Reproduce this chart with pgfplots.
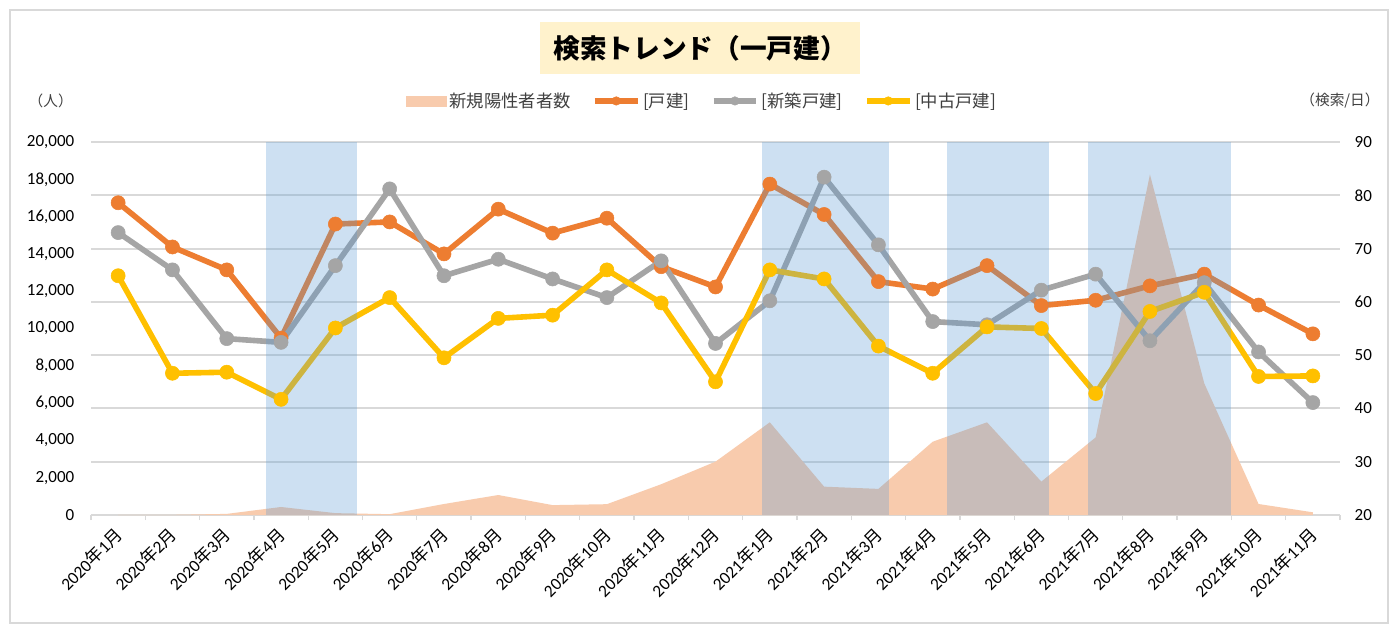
\documentclass[border=0pt]{standalone}
\usepackage{fontspec}
\setmainfont{Carlito}
\newfontfamily\cjk{Noto Sans CJK JP}
\usepackage{pgfplots}
\pgfplotsset{compat=1.18}
\definecolor{cOr}{HTML}{ED7D31}
\definecolor{cGr}{HTML}{A5A5A5}
\definecolor{cYe}{HTML}{FFC000}
\definecolor{cArea}{HTML}{F8CBAD}
\definecolor{cBand}{HTML}{5B9BD5}
\definecolor{cGrid}{HTML}{D9D9D9}
\definecolor{cTitle}{HTML}{FFF2CC}
\definecolor{cText}{HTML}{404040}
\newcommand{\ym}[2]{#1{\cjk 年}#2{\cjk 月}}
\pgfplotsset{
  base/.style={scale only axis, width=936.75pt, height=279.75pt,
    at={(68.25pt,88.5pt)}, anchor=south west, xmin=-0.5, xmax=22.5,
    axis line style={draw=none}, major tick length=0pt,
    scaled y ticks=false,
    ticklabel style={font=\fontsize{12.75}{14}\selectfont, text=black},
    /pgf/number format/assume math mode=true,
    /pgf/number format/1000 sep={,}},
  ln/.style={line width=4.2pt, line join=round, mark=*, mark size=5.3pt,
    mark options={solid, line width=0.4pt}},
}
\begin{document}
\begin{tikzpicture}
\useasboundingbox (0pt,0pt) rectangle (1048.5pt,474.75pt);
\fill[white] (0pt,0pt) rectangle (1048.5pt,474.75pt);
\draw[cGrid, line width=1.5pt] (7.5pt,7.5pt) rectangle (1041pt,467.25pt);
\fill[cTitle] (405pt,419.25pt) rectangle (645pt,458.25pt);
\node[font=\cjk\bfseries\fontsize{20}{24}\selectfont] at (525pt,438.75pt) {検索トレンド（一戸建）};
\node[font=\cjk\fontsize{11}{12}\selectfont, text=cText] at (38pt,399pt) {（人）};
\node[font=\cjk\fontsize{11}{12}\selectfont, text=cText] at (1005pt,399pt) {（検索/日）};

% grid axis
\begin{axis}[base, ymin=20, ymax=90, ytick={20,30,...,90}, xtick=\empty,
  yticklabels={}, ymajorgrids, major grid style={cGrid, line width=1.5pt}]
\addplot[draw=none, forget plot] coordinates {(0,20)};
\end{axis}

% left axis with area
\begin{axis}[base, ymin=0, ymax=20000, ytick={0,2000,...,20000},
  ytick pos=left, yticklabel pos=left, yticklabel shift=9pt,
  xtick={0,...,22}, xtick pos=bottom,
  minor xtick={-0.5,0.5,...,22.5}, minor tick length=3.75pt, xtick align=outside,
  minor x tick style={cGrid, line width=1pt},
  xticklabels={\ym{2020}{1},\ym{2020}{2},\ym{2020}{3},\ym{2020}{4},\ym{2020}{5},\ym{2020}{6},\ym{2020}{7},\ym{2020}{8},\ym{2020}{9},\ym{2020}{10},\ym{2020}{11},\ym{2020}{12},\ym{2021}{1},\ym{2021}{2},\ym{2021}{3},\ym{2021}{4},\ym{2021}{5},\ym{2021}{6},\ym{2021}{7},\ym{2021}{8},\ym{2021}{9},\ym{2021}{10},\ym{2021}{11}},
  xticklabel style={rotate=45, anchor=east, inner sep=0pt, xshift=1pt, font=\fontsize{13}{15}\selectfont},
  xticklabel shift=13pt]
\addplot[fill=cArea, draw=none] table[x=x, y=y] {
x y
0 10
1 10
2 60
3 430
4 100
5 45
6 590
7 1072
8 530
9 580
10 1650
11 2860
12 4970
13 1520
14 1400
15 3930
16 4970
17 1790
18 4160
19 18260
20 7060
21 590
22 145
} \closedcycle;
\end{axis}

% right axis with lines
\begin{axis}[base, ymin=20, ymax=90, ytick={20,30,...,90},
  ytick pos=right, yticklabel pos=right, yticklabel shift=7.5pt, xtick=\empty,
  legend style={at={(axis description cs:0.4896,1.11)}, anchor=center,
    draw=none, fill=none, legend columns=4,
    font=\cjk\fontsize{13}{15}\selectfont, text=cText,
    /tikz/every even column/.append style={column sep=14pt}},
  legend image code/.code={\draw[mark repeat=2,mark phase=2,#1,mark size=3.2pt] plot coordinates {(0pt,0pt) (16pt,0pt) (32pt,0pt)};}]
\addlegendimage{legend image code/.code={\fill[cArea] (0pt,-3.75pt) rectangle (30pt,3.75pt);}}
\addlegendentry{新規陽性者者数}
\addplot[ln, cOr] table[x=x, y=y] {
x y
0 78.6
1 70.3
2 66.0
3 53.2
4 74.6
5 75.0
6 69.0
7 77.4
8 72.9
9 75.7
10 66.6
11 62.8
12 82.1
13 76.4
14 63.8
15 62.4
16 66.8
17 59.3
18 60.3
19 63.0
20 65.2
21 59.4
22 54.0
};
\addlegendentry{[戸建]}
\addplot[ln, cGr] table[x=x, y=y] {
x y
0 73.0
1 66.0
2 53.1
3 52.4
4 66.8
5 81.2
6 64.9
7 68.0
8 64.3
9 60.8
10 67.7
11 52.2
12 60.2
13 83.4
14 70.7
15 56.3
16 55.7
17 62.2
18 65.2
19 52.7
20 63.6
21 50.6
22 41.1
};
\addlegendentry{[新築戸建]}
\addplot[ln, cYe] table[x=x, y=y] {
x y
0 64.9
1 46.6
2 46.8
3 41.7
4 55.1
5 60.8
6 49.5
7 56.9
8 57.5
9 66.0
10 59.8
11 45.0
12 66.0
13 64.3
14 51.7
15 46.6
16 55.3
17 55.0
18 42.8
19 58.2
20 61.8
21 46.0
22 46.1
};
\addlegendentry{[中古戸建]}
\addplot[draw=none, fill=cBand, fill opacity=0.3, forget plot] coordinates {(2.73,20) (2.73,90) (4.40,90) (4.40,20)};
\addplot[draw=none, fill=cBand, fill opacity=0.3, forget plot] coordinates {(11.86,20) (11.86,90) (14.20,90) (14.20,20)};
\addplot[draw=none, fill=cBand, fill opacity=0.3, forget plot] coordinates {(15.27,20) (15.27,90) (17.15,90) (17.15,20)};
\addplot[draw=none, fill=cBand, fill opacity=0.3, forget plot] coordinates {(17.86,20) (17.86,90) (20.50,90) (20.50,20)};
\end{axis}
\end{tikzpicture}
\end{document}
